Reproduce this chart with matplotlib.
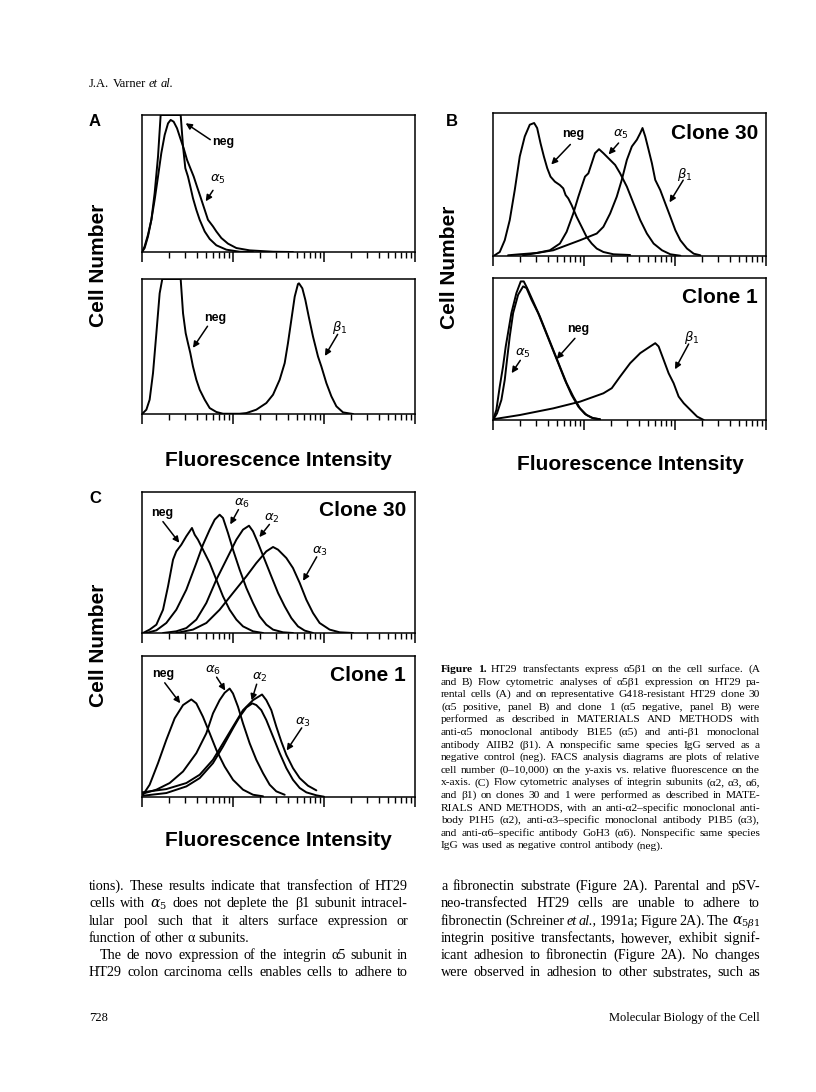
import matplotlib
matplotlib.use('Agg')
import matplotlib.pyplot as plt
import numpy as np

W, H = 816, 1092

# ---------------- data (x = log10 fluorescence in decades, y = relative cell number) -------------
# Panel A, top (parental cells: neg vs alpha5)
A1_neg_x = [0, 0.029, 0.066, 0.103, 0.139, 0.176, 0.205, 0.425, 0.451, 0.476, 0.505, 0.531, 0.560,
            0.597, 0.634, 0.689, 0.744, 0.817, 0.927, 1.073, 1.22]
A1_neg_y = [0, 0.029, 0.114, 0.235, 0.430, 0.697, 1.0, 1.0, 0.769, 0.612, 0.551, 0.478, 0.393,
            0.308, 0.235, 0.150, 0.095, 0.049, 0.017, 0.002, 0]
A1_a5_x = [0, 0.029, 0.066, 0.103, 0.139, 0.176, 0.212, 0.249, 0.286, 0.315, 0.348, 0.385, 0.421,
           0.458, 0.495, 0.531, 0.568, 0.604, 0.641, 0.689, 0.725, 0.780, 0.817, 0.872, 0.945,
           1.037, 1.183, 1.440, 1.659]
A1_a5_y = [0, 0.041, 0.126, 0.235, 0.381, 0.551, 0.721, 0.854, 0.939, 0.964, 0.951, 0.903, 0.830,
           0.757, 0.672, 0.612, 0.551, 0.478, 0.405, 0.308, 0.235, 0.187, 0.150, 0.102, 0.061,
           0.029, 0.012, 0.002, 0]
# Panel A, bottom (neg vs beta1)
A2_neg_x = [0, 0.048, 0.084, 0.121, 0.158, 0.194, 0.223, 0.425, 0.451, 0.480, 0.505, 0.531, 0.560,
            0.597, 0.634, 0.689, 0.744, 0.817, 0.890, 1.073]
A2_neg_y = [0, 0.032, 0.106, 0.303, 0.599, 0.894, 1.0, 1.0, 0.746, 0.599, 0.525, 0.451, 0.352,
            0.254, 0.180, 0.106, 0.044, 0.015, 0.002, 0]
A2_b1_x = [0.853, 1.073, 1.147, 1.256, 1.366, 1.440, 1.513, 1.568, 1.604, 1.641, 1.678, 1.714,
           1.725, 1.762, 1.795, 1.832, 1.879, 1.934, 1.971, 2.026, 2.081, 2.136, 2.209, 2.319]
A2_b1_y = [0, 0.002, 0.007, 0.032, 0.081, 0.143, 0.254, 0.377, 0.525, 0.697, 0.869, 0.963,
           0.968, 0.931, 0.845, 0.722, 0.574, 0.426, 0.352, 0.229, 0.131, 0.057, 0.012, 0]
# Panel B, top (clone 30)
B1_neg_x = [0.018, 0.074, 0.129, 0.184, 0.239, 0.294, 0.349, 0.404, 0.452, 0.485, 0.522, 0.559,
            0.596, 0.632, 0.680, 0.735, 0.772, 0.798, 0.827, 0.864, 0.919, 0.974, 1.029, 1.085,
            1.140, 1.213, 1.324, 1.507]
B1_neg_y = [0.005, 0.028, 0.110, 0.251, 0.461, 0.696, 0.836, 0.918, 0.930, 0.895, 0.789, 0.696,
            0.614, 0.555, 0.520, 0.496, 0.473, 0.426, 0.403, 0.356, 0.274, 0.204, 0.133, 0.087,
            0.052, 0.028, 0.012, 0.007]
B1_a5_x = [0.165, 0.294, 0.478, 0.625, 0.735, 0.809, 0.882, 0.938, 0.974, 1.011, 1.048, 1.085,
           1.121, 1.165, 1.213, 1.268, 1.342, 1.397, 1.471, 1.544, 1.618, 1.691, 1.765, 1.857,
           1.949, 2.059]
B1_a5_y = [0.005, 0.012, 0.021, 0.040, 0.087, 0.169, 0.297, 0.415, 0.485, 0.555, 0.578, 0.649,
           0.719, 0.747, 0.719, 0.684, 0.637, 0.578, 0.485, 0.368, 0.251, 0.157, 0.087, 0.040,
           0.012, 0.002]
B1_b1_x = [0.331, 0.662, 0.956, 1.140, 1.213, 1.287, 1.360, 1.415, 1.471, 1.526, 1.581, 1.618,
           1.643, 1.673, 1.710, 1.746, 1.783, 1.838, 1.893, 1.949, 2.004, 2.059, 2.132, 2.206, 2.279]
B1_b1_y = [0.005, 0.040, 0.110, 0.157, 0.204, 0.297, 0.415, 0.532, 0.672, 0.766, 0.813, 0.859,
           0.895, 0.836, 0.742, 0.649, 0.532, 0.461, 0.368, 0.274, 0.180, 0.110, 0.052, 0.016, 0.005]
# Panel B, bottom (clone 1)
B2_neg_x = [0, 0.037, 0.074, 0.110, 0.140, 0.165, 0.202, 0.257, 0.305, 0.338, 0.375, 0.441, 0.515,
            0.588, 0.662, 0.735, 0.809, 0.882, 0.956, 1.029, 1.103, 1.176]
B2_neg_y = [0, 0.071, 0.235, 0.376, 0.518, 0.612, 0.753, 0.894, 0.976, 0.976, 0.929, 0.835, 0.729,
            0.612, 0.494, 0.376, 0.259, 0.165, 0.082, 0.035, 0.012, 0.005]
B2_a5_x = [0, 0.044, 0.092, 0.129, 0.154, 0.184, 0.221, 0.276, 0.331, 0.368, 0.423, 0.496, 0.570,
           0.643, 0.717, 0.790, 0.864, 0.938, 1.011, 1.085, 1.176]
B2_a5_y = [0, 0.047, 0.141, 0.282, 0.424, 0.588, 0.753, 0.882, 0.941, 0.929, 0.847, 0.753, 0.635,
           0.518, 0.400, 0.282, 0.176, 0.094, 0.042, 0.016, 0.005]
B2_b1_x = [0, 0.294, 0.662, 0.956, 1.213, 1.305, 1.397, 1.507, 1.618, 1.728, 1.783, 1.820, 1.875,
           1.930, 1.985, 2.040, 2.096, 2.169, 2.243, 2.316]
B2_b1_y = [0.005, 0.035, 0.082, 0.129, 0.188, 0.224, 0.306, 0.400, 0.471, 0.518, 0.541, 0.518,
           0.424, 0.329, 0.259, 0.165, 0.118, 0.071, 0.024, 0]
# Panel C, top (clone 30)
C1_neg_x = [0.011, 0.084, 0.158, 0.231, 0.286, 0.341, 0.377, 0.432, 0.487, 0.524, 0.549, 0.579,
            0.615, 0.670, 0.744, 0.817, 0.890, 0.963, 1.037, 1.110, 1.220, 1.330]
C1_neg_y = [0, 0.024, 0.059, 0.165, 0.331, 0.520, 0.579, 0.626, 0.686, 0.721, 0.745, 0.697,
            0.662, 0.591, 0.496, 0.378, 0.260, 0.165, 0.095, 0.047, 0.012, 0]
C1_a6_x = [0.048, 0.158, 0.267, 0.377, 0.487, 0.597, 0.670, 0.744, 0.799, 0.853, 0.890, 0.945,
           1.0, 1.073, 1.147, 1.220, 1.293, 1.366, 1.440, 1.549, 1.659]
C1_a6_y = [0, 0.019, 0.071, 0.165, 0.307, 0.496, 0.626, 0.733, 0.804, 0.839, 0.816, 0.709,
           0.591, 0.449, 0.319, 0.213, 0.118, 0.059, 0.024, 0.005, 0]
C1_a2_x = [0.231, 0.377, 0.487, 0.597, 0.707, 0.817, 0.927, 1.037, 1.110, 1.176, 1.220, 1.275,
           1.348, 1.421, 1.495, 1.568, 1.641, 1.714, 1.788, 1.879]
C1_a2_y = [0, 0.012, 0.035, 0.095, 0.213, 0.378, 0.520, 0.662, 0.733, 0.761, 0.721, 0.638,
           0.520, 0.402, 0.284, 0.189, 0.106, 0.047, 0.017, 0]
C1_a3_x = [0.377, 0.560, 0.707, 0.853, 1.0, 1.147, 1.256, 1.366, 1.440, 1.495, 1.586, 1.659,
           1.733, 1.806, 1.879, 1.952, 2.062, 2.172, 2.319]
C1_a3_y = [0, 0.024, 0.071, 0.165, 0.284, 0.402, 0.496, 0.579, 0.610, 0.591, 0.532, 0.461,
           0.355, 0.236, 0.142, 0.071, 0.024, 0.005, 0]
# Panel C, bottom (clone 1)
C2_neg_x = [0.011, 0.084, 0.176, 0.267, 0.359, 0.451, 0.542, 0.597, 0.670, 0.744, 0.817, 0.908,
            1.0, 1.110, 1.220, 1.330]
C2_neg_y = [0.016, 0.087, 0.240, 0.405, 0.558, 0.652, 0.692, 0.664, 0.569, 0.452, 0.334, 0.216,
            0.122, 0.052, 0.016, 0.005]
C2_a6_x = [0.011, 0.158, 0.304, 0.451, 0.597, 0.707, 0.780, 0.853, 0.908, 0.963, 1.0, 1.055,
           1.110, 1.183, 1.256, 1.330, 1.403, 1.476, 1.568]
C2_a6_y = [0.024, 0.052, 0.099, 0.181, 0.311, 0.452, 0.593, 0.687, 0.739, 0.769, 0.734, 0.640,
           0.522, 0.381, 0.264, 0.169, 0.087, 0.040, 0.016]
C2_a2_x = [0.011, 0.267, 0.487, 0.634, 0.780, 0.890, 1.0, 1.073, 1.147, 1.212, 1.256, 1.311,
           1.366, 1.440, 1.513, 1.586, 1.659, 1.733, 1.806, 1.916, 2.0]
C2_a2_y = [0.009, 0.028, 0.075, 0.134, 0.240, 0.358, 0.487, 0.569, 0.635, 0.664, 0.652, 0.616,
           0.546, 0.428, 0.311, 0.205, 0.122, 0.064, 0.033, 0.012, 0.002]
C2_a3_x = [0, 0.267, 0.487, 0.634, 0.780, 0.890, 1.0, 1.110, 1.220, 1.319, 1.366, 1.421, 1.476,
           1.531, 1.586, 1.659, 1.733, 1.824, 1.916]
C2_a3_y = [0.033, 0.056, 0.099, 0.158, 0.264, 0.381, 0.499, 0.616, 0.687, 0.727, 0.687, 0.616,
           0.499, 0.393, 0.299, 0.205, 0.134, 0.080, 0.047]

HEADER = ["J.A. Varner _et_ _al._"]
CAPTION = [
    "**Figure** **1.**  HT29 transfectants express α5β1 on the cell surface. (A",
    "and B) Flow cytometric analyses of α5β1 expression on HT29 pa-",
    "rental cells (A) and on representative G418-resistant HT29 clone 30",
    "(α5 positive, panel B) and clone 1 (α5 negative, panel B) were",
    "performed as described in MATERIALS AND METHODS with",
    "anti-α5 monoclonal antibody B1E5 (α5) and anti-β1 monoclonal",
    "antibody AIIB2 (β1). A nonspecific same species IgG served as a",
    "negative control (neg). FACS analysis diagrams are plots of relative",
    "cell number (0–10,000) on the y-axis vs. relative fluorescence on the",
    "x-axis. (C) Flow cytometric analyses of integrin subunits (α2, α3, α6,",
    "and β1) on clones 30 and 1 were performed as described in MATE-",
    "RIALS AND METHODS, with an anti-α2–specific monoclonal anti-",
    "body P1H5 (α2), anti-α3–specific monoclonal antibody P1B5 (α3),",
    "and anti-α6–specific antibody GoH3 (α6). Nonspecific same species",
    "IgG was used as negative control antibody (neg).",
]
BODY_LEFT = [
    "tions). These results indicate that transfection of HT29",
    r"cells with $\alpha_5$ does not deplete the β1 subunit intracel-",
    "lular pool such that it alters surface expression or",
    "function of other α subunits.",
    "The de novo expression of the integrin α5 subunit in",
    "HT29 colon carcinoma cells enables cells to adhere to",
]
BODY_RIGHT = [
    "a fibronectin substrate (Figure 2A). Parental and pSV-",
    "neo-transfected HT29 cells are unable to adhere to",
    r"fibronectin (Schreiner _et_ _al.,_ 1991a; Figure 2A). The $\alpha_{5\beta1}$",
    "integrin positive transfectants, however, exhibit signif-",
    "icant adhesion to fibronectin (Figure 2A). No changes",
    "were observed in adhesion to other substrates, such as",
]
PAGE_NO = "728"
JOURNAL = "Molecular Biology of the Cell"

# ---------------- drawing ---------------------------------------------------------------------
SANS = ['Liberation Sans', 'DejaVu Sans']
SERIF = ['Liberation Serif', 'DejaVu Serif']

fig = plt.figure(figsize=(W / 100, H / 100), dpi=100)
fig.patch.set_facecolor('white')
renderer = fig.canvas.get_renderer()


def fx(x):
    return x / W


def fy(y):
    return 1 - y / H


def px_axes(x0, y0, x1, y1):
    ax = fig.add_axes([x0 / W, 1 - y1 / H, (x1 - x0) / W, (y1 - y0) / H])
    ax.set_xlim(0, 3)
    ax.set_ylim(0, 1)
    ax.set_yticks([])
    ax.set_xticks([0, 1, 2, 3])
    ax.set_xticks([n + np.log10(k) for n in range(3) for k in range(2, 10)], minor=True)
    ax.set_xticklabels([])
    ax.tick_params(axis='x', which='major', direction='out', length=7, width=1.1)
    ax.tick_params(axis='x', which='minor', direction='out', length=4, width=1.0)
    for s in ax.spines.values():
        s.set_linewidth(1.1)
    ax.patch.set_alpha(0)
    return ax


def curve(ax, xs, ys):
    ax.plot(xs, ys, color='black', lw=1.4, solid_joinstyle='round', solid_capstyle='round')


def label(ax, txt, tpos, tail, head, bold=False, fs=9.5):
    ax.text(tpos[0], tpos[1], txt, ha='center', va='center', fontsize=fs,
            family=SANS, weight='bold' if bold else 'normal')
    ax.annotate('', xy=head, xytext=tail,
                arrowprops=dict(arrowstyle='-|>', color='black', lw=1.1,
                                mutation_scale=9, shrinkA=0, shrinkB=0))


def clone(ax, txt, xr, yc):
    ax.text(xr, yc, txt, ha='right', va='center', fontsize=15, weight='bold', family=SANS)


# Panel A
axA1 = px_axes(142, 115, 415, 252)
curve(axA1, A1_neg_x, A1_neg_y)
curve(axA1, A1_a5_x, A1_a5_y)
label(axA1, 'neg', (0.89, 0.80), (0.75, 0.82), (0.48, 0.94), bold=True, fs=9)
label(axA1, r'$\alpha_5$', (0.83, 0.53), (0.78, 0.45), (0.70, 0.37))

axA2 = px_axes(142, 279, 415, 414)
curve(axA2, A2_neg_x, A2_neg_y)
curve(axA2, A2_b1_x, A2_b1_y)
label(axA2, 'neg', (0.80, 0.71), (0.72, 0.65), (0.56, 0.49), bold=True, fs=9)
label(axA2, r'$\beta_1$', (2.17, 0.64), (2.15, 0.59), (2.01, 0.43))

# Panel B
axB1 = px_axes(493, 113, 766, 256)
curve(axB1, B1_neg_x, B1_neg_y)
curve(axB1, B1_a5_x, B1_a5_y)
curve(axB1, B1_b1_x, B1_b1_y)
label(axB1, 'neg', (0.88, 0.85), (0.85, 0.78), (0.64, 0.64), bold=True, fs=9)
label(axB1, r'$\alpha_5$', (1.40, 0.85), (1.38, 0.79), (1.27, 0.71))
label(axB1, r'$\beta_1$', (2.11, 0.57), (2.09, 0.53), (1.94, 0.375))
clone(axB1, 'Clone 30', 2.91, 0.86)

axB2 = px_axes(493, 278, 766, 420)
curve(axB2, B2_neg_x, B2_neg_y)
curve(axB2, B2_a5_x, B2_a5_y)
curve(axB2, B2_b1_x, B2_b1_y)
label(axB2, r'$\alpha_5$', (0.33, 0.47), (0.30, 0.42), (0.205, 0.33))
label(axB2, 'neg', (0.94, 0.64), (0.90, 0.575), (0.70, 0.43), bold=True, fs=9)
label(axB2, r'$\beta_1$', (2.18, 0.58), (2.15, 0.535), (2.0, 0.357))
clone(axB2, 'Clone 1', 2.91, 0.86)

# Panel C
axC1 = px_axes(142, 492, 415, 633)
curve(axC1, C1_neg_x, C1_neg_y)
curve(axC1, C1_a6_x, C1_a6_y)
curve(axC1, C1_a2_x, C1_a2_y)
curve(axC1, C1_a3_x, C1_a3_y)
label(axC1, 'neg', (0.22, 0.85), (0.23, 0.79), (0.41, 0.64), bold=True, fs=9)
label(axC1, r'$\alpha_6$', (1.10, 0.92), (1.06, 0.875), (0.97, 0.77))
label(axC1, r'$\alpha_2$', (1.43, 0.81), (1.40, 0.77), (1.29, 0.68))
label(axC1, r'$\alpha_3$', (1.95, 0.58), (1.92, 0.54), (1.77, 0.37))
clone(axC1, 'Clone 30', 2.90, 0.87)

axC2 = px_axes(142, 656, 415, 797)
curve(axC2, C2_neg_x, C2_neg_y)
curve(axC2, C2_a6_x, C2_a6_y)
curve(axC2, C2_a2_x, C2_a2_y)
curve(axC2, C2_a3_x, C2_a3_y)
label(axC2, 'neg', (0.23, 0.87), (0.25, 0.81), (0.42, 0.665), bold=True, fs=9)
label(axC2, r'$\alpha_6$', (0.78, 0.90), (0.82, 0.85), (0.915, 0.755))
label(axC2, r'$\alpha_2$', (1.29, 0.85), (1.26, 0.80), (1.205, 0.685))
label(axC2, r'$\alpha_3$', (1.77, 0.53), (1.755, 0.49), (1.59, 0.33))
clone(axC2, 'Clone 1', 2.90, 0.865)

# panel letters and axis titles
for letter, (x, y) in {'A': (95, 122), 'B': (452, 121), 'C': (95, 499)}.items():
    fig.text(fx(x), fy(y), letter, ha='center', va='center', fontsize=12, weight='bold', family=SANS)
for (x, y) in [(98, 265), (449, 267), (98, 645)]:
    fig.text(fx(x), fy(y), 'Cell Number', rotation=90, ha='center', va='center',
             fontsize=15, weight='bold', family=SANS)
for (x, y) in [(278, 460), (630, 465), (278, 840)]:
    fig.text(fx(x), fy(y), 'Fluorescence Intensity', ha='center', va='center',
             fontsize=15, weight='bold', family=SANS)


# ---------------- text blocks -----------------------------------------------------------------
def make_tokens(line, fs):
    arts = []
    for tok in line.split():
        weight, style = 'normal', 'normal'
        if tok.startswith('**') and tok.endswith('**') and len(tok) > 4:
            tok, weight = tok[2:-2], 'bold'
        elif tok.startswith('_') and tok.endswith('_') and len(tok) > 2:
            tok, style = tok[1:-1], 'italic'
        t = fig.text(0, 0, tok, fontsize=fs, family=SERIF, weight=weight, style=style,
                     ha='left', va='baseline', math_fontfamily='dejavuserif')
        arts.append(t)
    return arts


def natural_width(line, fs):
    arts = make_tokens(line, fs)
    w = sum(a.get_window_extent(renderer).width for a in arts)
    n = len(arts)
    for a in arts:
        a.remove()
    return w + (n - 1) * fs * 0.25 * 100 / 72


def text_block(lines, x0, x1, y0, dy, fill=0.97, ragged=(), indent=None, fs=None):
    indent = indent or {}
    if fs is None:
        test = 10.0
        widest = max(natural_width(l, test) + indent.get(i, 0) for i, l in enumerate(lines))
        fs = test * fill * (x1 - x0) / widest
    for i, line in enumerate(lines):
        arts = make_tokens(line, fs)
        widths = [a.get_window_extent(renderer).width for a in arts]
        start = x0 + indent.get(i, 0)
        space = fs * 0.25 * 100 / 72
        if i not in ragged and len(arts) > 1:
            space = (x1 - start - sum(widths)) / (len(arts) - 1)
        x = start
        for a, w in zip(arts, widths):
            a.set_position((fx(x), fy(y0 + i * dy)))
            x += w + space
    return fs


text_block(HEADER, 89, 200, 87, 0, ragged={0}, fs=9)
text_block(CAPTION, 441, 760, 672, 12.6, fill=0.985, ragged={14})
fsb = text_block(BODY_LEFT, 89, 408, 890, 17.3, fill=0.965, ragged={3}, indent={4: 11})
text_block(BODY_RIGHT, 441, 760, 890, 17.3, fs=fsb)
fig.text(fx(89), fy(1021), PAGE_NO, fontsize=9, family=SERIF, ha='left', va='baseline')
fig.text(fx(760), fy(1021), JOURNAL, fontsize=9, family=SERIF, ha='right', va='baseline')

fig.savefig('out.png', dpi=100, facecolor='white')
